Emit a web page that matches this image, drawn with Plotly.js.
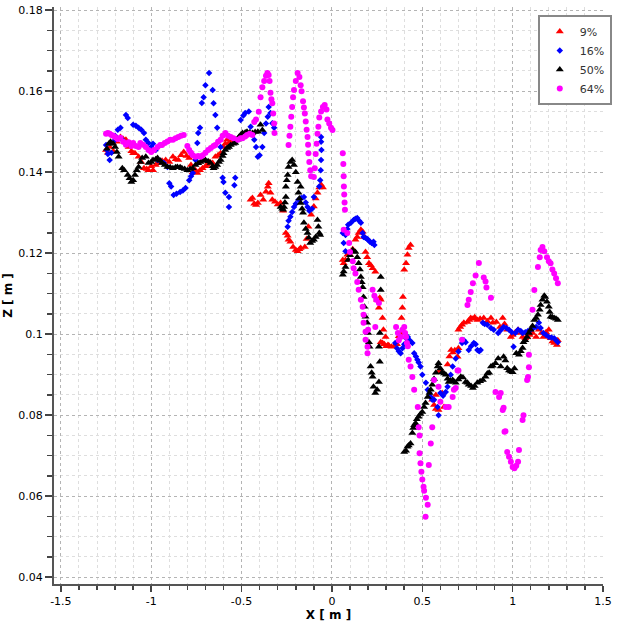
<!DOCTYPE html>
<html>
<head>
<meta charset="utf-8">
<script src="https://cdn.plot.ly/plotly-3.0.1.min.js"></script>
<style>
  html, body { margin: 0; padding: 0; background: #fff; }
  #chart { width: 625px; height: 627px; }
</style>
</head>
<body>
<div id="chart"></div>
<script>
// values, [x, z] in metres

const pts9 = [
  [-1.25, 0.1455], [-1.24, 0.1448], [-1.23, 0.1462], [-1.21, 0.1452], [-1.19, 0.1475], [-1.17, 0.1487],
  [-1.155, 0.1482], [-1.14, 0.148], [-1.125, 0.1462], [-1.11, 0.1452], [-1.10, 0.1447], [-1.09, 0.1447],
  [-1.07, 0.1438], [-1.055, 0.1425], [-1.04, 0.141], [-1.025, 0.1408], [-1.015, 0.1405], [-1.0, 0.1415],
  [-0.99, 0.1405], [-0.975, 0.1418], [-0.96, 0.1423], [-0.94, 0.1428], [-0.92, 0.143], [-0.90, 0.1425],
  [-0.88, 0.1438], [-0.865, 0.1432], [-0.85, 0.143], [-0.835, 0.1442], [-0.82, 0.145], [-0.805, 0.144],
  [-0.79, 0.1435], [-0.78, 0.1418], [-0.77, 0.14], [-0.755, 0.1405], [-0.745, 0.1398], [-0.73, 0.1405],
  [-0.716, 0.141], [-0.70, 0.1415], [-0.69, 0.1418], [-0.675, 0.1425], [-0.66, 0.1423], [-0.645, 0.1438],
  [-0.63, 0.1442], [-0.616, 0.1447], [-0.60, 0.1462], [-0.59, 0.147], [-0.58, 0.148], [-0.57, 0.1472],
  [-0.56, 0.1475], [-0.545, 0.1478], [-0.535, 0.148], [-0.52, 0.1482],
  [-0.45, 0.1332], [-0.44, 0.1336], [-0.43, 0.1322], [-0.42, 0.1319], [-0.41, 0.1324], [-0.395, 0.1344],
  [-0.38, 0.1332], [-0.365, 0.1352], [-0.355, 0.1364], [-0.35, 0.1373], [-0.34, 0.1349], [-0.33, 0.1332],
  [-0.315, 0.1327], [-0.30, 0.132], [-0.284, 0.1324], [-0.27, 0.1305],
  [-0.255, 0.125], [-0.245, 0.1243], [-0.24, 0.1233], [-0.23, 0.1228], [-0.215, 0.1215], [-0.20, 0.1208],
  [-0.19, 0.1205], [-0.18, 0.121], [-0.173, 0.1213],
  [-0.15, 0.1215], [-0.14, 0.1235], [-0.13, 0.1265], [-0.115, 0.1295], [-0.10, 0.1315], [-0.09, 0.1335],
  [-0.08, 0.1349], [-0.07, 0.1362], [-0.06, 0.1369], [-0.05, 0.1362],
  [0.06, 0.1183], [0.065, 0.1175], [0.075, 0.1183], [0.085, 0.1196], [0.10, 0.1196], [0.115, 0.121],
  [0.13, 0.1233], [0.14, 0.124], [0.148, 0.125], [0.16, 0.1258], [0.17, 0.1253], [0.18, 0.124],
  [0.186, 0.1203], [0.195, 0.119], [0.205, 0.1175], [0.215, 0.117], [0.225, 0.1163], [0.24, 0.1154],
  [0.25, 0.1085], [0.26, 0.1065], [0.265, 0.109], [0.27, 0.1085], [0.28, 0.104], [0.285, 0.1011],
  [0.297, 0.0993], [0.31, 0.0973], [0.27, 0.098], [0.28, 0.0978], [0.29, 0.0975], [0.30, 0.097],
  [0.315, 0.0972], [0.33, 0.0969], [0.345, 0.097], [0.355, 0.0975], [0.36, 0.0975],
  [0.37, 0.0995], [0.38, 0.1003], [0.385, 0.104], [0.39, 0.1065], [0.393, 0.1092], [0.40, 0.1159],
  [0.41, 0.1175], [0.418, 0.1196], [0.425, 0.1213], [0.435, 0.122],
  [0.555, 0.0838], [0.565, 0.0825], [0.575, 0.0815], [0.59, 0.0813], [0.62, 0.082], [0.575, 0.085],
  [0.61, 0.0855], [0.59, 0.0906], [0.60, 0.091],
  [0.64, 0.0925], [0.65, 0.0945], [0.66, 0.0961], [0.67, 0.0955], [0.68, 0.096], [0.695, 0.0944],
  [0.70, 0.0965], [0.70, 0.1011], [0.71, 0.1018], [0.72, 0.1023], [0.73, 0.1028], [0.75, 0.103],
  [0.76, 0.1035], [0.768, 0.104], [0.78, 0.1038], [0.79, 0.1042], [0.805, 0.1035], [0.82, 0.1038],
  [0.84, 0.104], [0.86, 0.1032], [0.88, 0.104], [0.89, 0.1028], [0.91, 0.103], [0.93, 0.1018],
  [0.945, 0.104], [0.955, 0.1025], [0.97, 0.1011], [0.99, 0.0993], [1.0, 0.0998], [1.015, 0.1005],
  [1.03, 0.1011], [1.045, 0.1003], [1.055, 0.0993], [1.07, 0.099], [1.08, 0.0993], [1.095, 0.0998],
  [1.11, 0.1003], [1.13, 0.0993], [1.145, 0.1011], [1.16, 0.1003], [1.17, 0.0993], [1.185, 0.1005],
  [1.20, 0.1011], [1.21, 0.099], [1.22, 0.0982], [1.23, 0.0978], [1.245, 0.0973], [1.25, 0.0985]
];

const pts16 = [
  [-1.25, 0.1467], [-1.245, 0.1455], [-1.24, 0.1445], [-1.23, 0.143], [-1.22, 0.1448], [-1.21, 0.1475],
  [-1.20, 0.149], [-1.185, 0.1505], [-1.17, 0.151], [-1.16, 0.148], [-1.14, 0.1541], [-1.13, 0.1534],
  [-1.10, 0.1517], [-1.085, 0.1515], [-1.07, 0.151], [-1.055, 0.1505], [-1.04, 0.1497], [-1.03, 0.148],
  [-1.015, 0.1472], [-1.0, 0.1462], [-0.99, 0.147], [-0.975, 0.1455], [-0.965, 0.143], [-0.95, 0.1428],
  [-0.93, 0.1423], [-0.91, 0.1413], [-0.90, 0.1373], [-0.89, 0.1365], [-0.876, 0.1344], [-0.86, 0.1347],
  [-0.84, 0.1351], [-0.825, 0.1355], [-0.81, 0.1361], [-0.79, 0.138], [-0.78, 0.139], [-0.77, 0.1398],
  [-0.755, 0.143], [-0.745, 0.1472], [-0.74, 0.1497], [-0.73, 0.151], [-0.72, 0.1571], [-0.71, 0.1585],
  [-0.70, 0.1615], [-0.68, 0.1645], [-0.66, 0.1603], [-0.655, 0.157], [-0.645, 0.1541], [-0.635, 0.151],
  [-0.616, 0.1462], [-0.605, 0.1386], [-0.60, 0.1376], [-0.59, 0.1349], [-0.57, 0.1339], [-0.57, 0.1314],
  [-0.54, 0.1368], [-0.535, 0.1386], [-0.505, 0.1529], [-0.49, 0.154], [-0.48, 0.1546], [-0.46, 0.155],
  [-0.45, 0.1512], [-0.43, 0.148], [-0.42, 0.1462], [-0.41, 0.1438], [-0.40, 0.1442], [-0.385, 0.1462],
  [-0.375, 0.1497], [-0.365, 0.152], [-0.355, 0.1537], [-0.35, 0.1561], [-0.34, 0.1546], [-0.33, 0.1521],
  [-0.32, 0.151],
  [-0.245, 0.1265], [-0.24, 0.128], [-0.23, 0.129], [-0.22, 0.1302], [-0.21, 0.1314], [-0.20, 0.1322],
  [-0.185, 0.1332], [-0.17, 0.1336], [-0.155, 0.1339], [-0.145, 0.1325], [-0.135, 0.1314], [-0.125, 0.1305],
  [-0.11, 0.131], [-0.10, 0.1339], [-0.07, 0.1365], [-0.065, 0.138], [-0.062, 0.1405], [-0.06, 0.143],
  [-0.058, 0.1455], [-0.06, 0.1475], [-0.06, 0.1487],
  [0.06, 0.125], [0.065, 0.1225], [0.075, 0.1205], [0.075, 0.1245], [0.085, 0.126], [0.09, 0.127],
  [0.105, 0.1275], [0.12, 0.1282], [0.13, 0.1285], [0.14, 0.1287], [0.15, 0.128], [0.16, 0.1275],
  [0.17, 0.125], [0.175, 0.124], [0.185, 0.1238], [0.195, 0.1235], [0.20, 0.1233], [0.21, 0.1228],
  [0.22, 0.1225], [0.23, 0.1228], [0.235, 0.122],
  [0.35, 0.0978], [0.36, 0.0965], [0.37, 0.0958], [0.38, 0.0953], [0.39, 0.0965], [0.40, 0.0975],
  [0.41, 0.099], [0.42, 0.0993], [0.43, 0.0985], [0.445, 0.0978], [0.455, 0.0953], [0.465, 0.0945],
  [0.473, 0.0937], [0.48, 0.093], [0.49, 0.092], [0.50, 0.09], [0.52, 0.088], [0.53, 0.0863],
  [0.54, 0.0855], [0.547, 0.0845], [0.555, 0.0838], [0.565, 0.0838], [0.585, 0.082], [0.59, 0.08],
  [0.60, 0.0855], [0.615, 0.0848], [0.63, 0.0857], [0.64, 0.087], [0.657, 0.09], [0.668, 0.092],
  [0.685, 0.094], [0.70, 0.0957], [0.72, 0.0978], [0.73, 0.0985], [0.74, 0.098], [0.757, 0.0961],
  [0.77, 0.097], [0.785, 0.0978], [0.795, 0.0975], [0.805, 0.0961], [0.815, 0.0958], [0.823, 0.0961],
  [0.835, 0.1028], [0.845, 0.1025], [0.86, 0.1023], [0.88, 0.1015], [0.895, 0.1011], [0.92, 0.1003],
  [0.935, 0.101], [0.95, 0.1018], [0.965, 0.1015], [0.98, 0.1011], [0.995, 0.1005], [1.005, 0.0969],
  [1.015, 0.1003], [1.03, 0.1011], [1.045, 0.1008], [1.055, 0.1003], [1.07, 0.1005], [1.085, 0.1008],
  [1.10, 0.1011], [1.115, 0.1015], [1.13, 0.1018], [1.145, 0.1028], [1.155, 0.1015], [1.17, 0.1003],
  [1.185, 0.0998], [1.20, 0.0993], [1.215, 0.0992], [1.23, 0.099], [1.24, 0.0985], [1.25, 0.098]
];

const pts50 = [
  [-1.245, 0.1458], [-1.235, 0.147], [-1.225, 0.1475], [-1.21, 0.147], [-1.20, 0.1462], [-1.19, 0.145],
  [-1.18, 0.1438], [-1.16, 0.141], [-1.15, 0.1405], [-1.13, 0.1393], [-1.12, 0.1385], [-1.11, 0.1376],
  [-1.10, 0.138], [-1.09, 0.1393], [-1.08, 0.1405], [-1.07, 0.1413], [-1.06, 0.1425], [-1.05, 0.1435],
  [-1.03, 0.1438], [-1.015, 0.1423], [-1.0, 0.1425], [-0.99, 0.143], [-0.975, 0.1432], [-0.965, 0.1435],
  [-0.95, 0.1428], [-0.94, 0.1423], [-0.925, 0.1418], [-0.91, 0.1413], [-0.895, 0.1412], [-0.88, 0.141],
  [-0.865, 0.1412], [-0.855, 0.1413], [-0.84, 0.1412], [-0.83, 0.141], [-0.815, 0.1408], [-0.80, 0.1405],
  [-0.785, 0.1408], [-0.77, 0.141], [-0.755, 0.1418], [-0.74, 0.1422], [-0.727, 0.1425], [-0.715, 0.1428],
  [-0.70, 0.143], [-0.685, 0.1427], [-0.672, 0.1423], [-0.66, 0.1415], [-0.655, 0.141], [-0.645, 0.1413],
  [-0.635, 0.1418], [-0.625, 0.1425], [-0.616, 0.143], [-0.605, 0.144], [-0.60, 0.1447], [-0.59, 0.1455],
  [-0.58, 0.146], [-0.57, 0.1462], [-0.56, 0.1467], [-0.545, 0.147], [-0.535, 0.1472], [-0.525, 0.148],
  [-0.515, 0.1487], [-0.505, 0.1492], [-0.495, 0.1497], [-0.48, 0.1498], [-0.47, 0.15], [-0.455, 0.1498],
  [-0.44, 0.1497], [-0.425, 0.1499], [-0.41, 0.15], [-0.395, 0.1517], [-0.385, 0.1504],
  [-0.284, 0.1314], [-0.275, 0.131], [-0.27, 0.1307], [-0.265, 0.1314], [-0.26, 0.1325], [-0.255, 0.1339],
  [-0.255, 0.1364], [-0.25, 0.138], [-0.245, 0.1393], [-0.24, 0.1413], [-0.23, 0.1425], [-0.22, 0.143],
  [-0.21, 0.1418], [-0.20, 0.14], [-0.19, 0.1376], [-0.185, 0.1349], [-0.173, 0.1364], [-0.18, 0.1335],
  [-0.173, 0.1324], [-0.165, 0.131], [-0.16, 0.13], [-0.155, 0.1275], [-0.145, 0.126], [-0.135, 0.125],
  [-0.128, 0.1238], [-0.12, 0.1225], [-0.11, 0.123], [-0.10, 0.1233], [-0.09, 0.124], [-0.08, 0.1282],
  [-0.075, 0.1265], [-0.07, 0.125], [-0.065, 0.1245],
  [0.06, 0.1147], [0.065, 0.1155], [0.075, 0.1166], [0.09, 0.1183], [0.10, 0.1195], [0.115, 0.1208],
  [0.12, 0.1205], [0.13, 0.1203], [0.14, 0.119], [0.148, 0.1175], [0.155, 0.116], [0.16, 0.1141],
  [0.165, 0.1128], [0.17, 0.1116], [0.175, 0.1092], [0.18, 0.1068], [0.186, 0.1043], [0.195, 0.1028],
  [0.20, 0.1003], [0.205, 0.098], [0.208, 0.0969], [0.214, 0.092], [0.22, 0.0905], [0.225, 0.0895],
  [0.23, 0.087], [0.24, 0.0855], [0.25, 0.0863], [0.26, 0.0882], [0.265, 0.0932], [0.26, 0.0969],
  [0.265, 0.1003], [0.27, 0.1109], [0.27, 0.1141],
  [0.40, 0.0709], [0.41, 0.0712], [0.418, 0.0722], [0.425, 0.0725], [0.435, 0.073], [0.445, 0.0756],
  [0.45, 0.0768], [0.455, 0.0775], [0.463, 0.078], [0.47, 0.079], [0.48, 0.0796], [0.49, 0.0803],
  [0.50, 0.0808], [0.51, 0.082], [0.518, 0.083], [0.53, 0.0845], [0.54, 0.0855], [0.547, 0.0863],
  [0.555, 0.0875], [0.565, 0.0889], [0.575, 0.0905], [0.585, 0.092], [0.59, 0.0928], [0.60, 0.0915],
  [0.61, 0.0906], [0.62, 0.0903], [0.63, 0.09], [0.64, 0.089], [0.646, 0.0882], [0.655, 0.0885],
  [0.668, 0.0887], [0.675, 0.0883], [0.685, 0.088], [0.70, 0.0888], [0.713, 0.0895], [0.725, 0.0893],
  [0.74, 0.0882], [0.75, 0.088], [0.757, 0.0875], [0.77, 0.0872], [0.78, 0.0867], [0.79, 0.0872],
  [0.805, 0.088], [0.82, 0.0884], [0.835, 0.0887], [0.85, 0.0895], [0.86, 0.0903], [0.87, 0.0905],
  [0.88, 0.092], [0.89, 0.0922], [0.905, 0.0928], [0.92, 0.094], [0.934, 0.092], [0.95, 0.0944],
  [0.96, 0.0935], [0.97, 0.0916], [0.98, 0.091], [0.99, 0.0908], [1.0, 0.0906], [1.01, 0.0915],
  [1.02, 0.0953], [1.035, 0.0949], [1.045, 0.0958], [1.055, 0.0966], [1.06, 0.098], [1.07, 0.0985],
  [1.08, 0.0993], [1.09, 0.1003], [1.10, 0.1011], [1.11, 0.102], [1.12, 0.1035], [1.13, 0.104],
  [1.14, 0.1048], [1.15, 0.106], [1.155, 0.1072], [1.165, 0.1085], [1.175, 0.1095], [1.18, 0.1092],
  [1.19, 0.108], [1.20, 0.1068], [1.205, 0.1055], [1.21, 0.1043], [1.22, 0.1042], [1.23, 0.104],
  [1.24, 0.1038], [1.25, 0.1035]
];

const pts64 = [
  [-1.25, 0.1495], [-1.24, 0.1497], [-1.23, 0.1495], [-1.22, 0.1492], [-1.21, 0.149], [-1.20, 0.1487],
  [-1.185, 0.1482], [-1.17, 0.1485], [-1.155, 0.1475], [-1.14, 0.1468], [-1.125, 0.1474], [-1.11, 0.1465],
  [-1.10, 0.1472], [-1.085, 0.1465], [-1.07, 0.1462], [-1.06, 0.1472], [-1.045, 0.1468], [-1.03, 0.1462],
  [-1.015, 0.1455], [-1.0, 0.145], [-0.985, 0.1455], [-0.965, 0.1462], [-0.95, 0.1467], [-0.94, 0.1467],
  [-0.925, 0.1472], [-0.91, 0.1476], [-0.895, 0.148], [-0.88, 0.148], [-0.865, 0.1484], [-0.85, 0.1487],
  [-0.835, 0.149], [-0.82, 0.1492], [-0.80, 0.1465], [-0.79, 0.1455], [-0.78, 0.1448], [-0.77, 0.1442],
  [-0.755, 0.1438], [-0.74, 0.144], [-0.727, 0.1438], [-0.715, 0.1442], [-0.70, 0.1448], [-0.685, 0.1455],
  [-0.67, 0.146], [-0.655, 0.1465], [-0.645, 0.1467], [-0.63, 0.1475], [-0.616, 0.148], [-0.605, 0.149],
  [-0.59, 0.1497], [-0.575, 0.149], [-0.56, 0.1487], [-0.545, 0.1484], [-0.52, 0.148], [-0.505, 0.1484],
  [-0.495, 0.1484], [-0.48, 0.1488], [-0.47, 0.1492], [-0.455, 0.1495], [-0.44, 0.1492], [-0.43, 0.1524],
  [-0.42, 0.153], [-0.405, 0.1549], [-0.395, 0.1585], [-0.385, 0.161], [-0.375, 0.1625], [-0.365, 0.1638],
  [-0.357, 0.1645], [-0.35, 0.164], [-0.345, 0.1625], [-0.34, 0.1596], [-0.335, 0.158], [-0.33, 0.157],
  [-0.325, 0.1545], [-0.32, 0.152], [-0.318, 0.1497],
  [-0.24, 0.1467], [-0.235, 0.149], [-0.23, 0.1512], [-0.225, 0.1537], [-0.22, 0.1561], [-0.215, 0.1585],
  [-0.21, 0.1603], [-0.20, 0.1625], [-0.19, 0.1645], [-0.18, 0.1635], [-0.173, 0.1615], [-0.168, 0.16],
  [-0.16, 0.1575], [-0.155, 0.156], [-0.15, 0.1545], [-0.145, 0.1525], [-0.14, 0.1505], [-0.135, 0.1487],
  [-0.132, 0.1468], [-0.13, 0.1447], [-0.125, 0.1425], [-0.12, 0.1405], [-0.115, 0.139], [-0.10, 0.1388],
  [-0.095, 0.141], [-0.09, 0.1445], [-0.085, 0.147], [-0.08, 0.1495], [-0.075, 0.1512], [-0.07, 0.1535],
  [-0.06, 0.155], [-0.05, 0.1561], [-0.04, 0.1566], [-0.03, 0.1555], [-0.025, 0.153], [-0.015, 0.152],
  [-0.005, 0.151], [0.003, 0.1504],
  [0.06, 0.1447], [0.063, 0.142], [0.065, 0.139], [0.066, 0.1365], [0.068, 0.1345], [0.07, 0.1325],
  [0.072, 0.1307], [0.065, 0.1258], [0.085, 0.125], [0.095, 0.1225], [0.10, 0.1203], [0.115, 0.118],
  [0.12, 0.1163], [0.13, 0.115], [0.14, 0.1129], [0.148, 0.111], [0.16, 0.1085], [0.17, 0.1068],
  [0.175, 0.1048], [0.175, 0.1028], [0.186, 0.1006], [0.186, 0.0986], [0.197, 0.0969], [0.197, 0.0953],
  [0.20, 0.1011], [0.225, 0.111], [0.235, 0.1095], [0.245, 0.1085], [0.26, 0.1077], [0.24, 0.1018],
  [0.355, 0.1018], [0.365, 0.1003], [0.37, 0.0985], [0.38, 0.0993], [0.39, 0.1011], [0.40, 0.1018],
  [0.405, 0.1003], [0.41, 0.0993], [0.415, 0.0978], [0.42, 0.097], [0.425, 0.0937], [0.435, 0.092],
  [0.445, 0.0894], [0.455, 0.0863], [0.475, 0.082], [0.48, 0.077], [0.485, 0.075], [0.485, 0.0706],
  [0.49, 0.0681], [0.495, 0.066], [0.50, 0.0641], [0.507, 0.0623], [0.51, 0.0613], [0.52, 0.0596],
  [0.53, 0.0579], [0.518, 0.0549], [0.536, 0.0677], [0.547, 0.073], [0.555, 0.077],
  [0.565, 0.0887], [0.59, 0.087], [0.60, 0.0833], [0.63, 0.082], [0.646, 0.082], [0.668, 0.0845],
  [0.675, 0.0863], [0.685, 0.0867], [0.695, 0.091], [0.70, 0.091], [0.72, 0.0986],
  [0.75, 0.1072], [0.757, 0.1085], [0.768, 0.1104], [0.78, 0.1126], [0.795, 0.1145], [0.813, 0.1176],
  [0.84, 0.114], [0.85, 0.113], [0.855, 0.1115], [0.88, 0.109],
  [0.905, 0.0857], [0.925, 0.0845], [0.934, 0.0855], [0.945, 0.0813], [0.95, 0.0818], [0.955, 0.0759],
  [0.96, 0.076], [0.97, 0.0709], [0.98, 0.0697], [0.99, 0.0685], [1.0, 0.0672], [1.01, 0.0669],
  [1.02, 0.0675], [1.03, 0.0685], [1.035, 0.0714], [1.055, 0.0788], [1.06, 0.08], [1.08, 0.0887],
  [1.085, 0.0894], [1.09, 0.0918], [1.09, 0.0949], [1.11, 0.106], [1.12, 0.1109], [1.14, 0.1166],
  [1.15, 0.119], [1.155, 0.1208], [1.165, 0.1215], [1.175, 0.1205], [1.19, 0.119], [1.20, 0.118],
  [1.21, 0.1175], [1.22, 0.116], [1.23, 0.115], [1.24, 0.1138], [1.25, 0.1126]
];

const seriesNames = ["9%", "16%", "50%", "64%"];
const xTickVals = [-1.5, -1, -0.5, 0, 0.5, 1, 1.5];
const xTickText = ["-1.5", "-1", "-0.5", "0", "0.5", "1", "1.5"];

const styles = [
  { symbol: "triangle-up", color: "#ff0000", size: 7 },
  { symbol: "diamond", color: "#0000ff", size: 5 },
  { symbol: "triangle-up", color: "#000000", size: 7 },
  { symbol: "circle", color: "#ff00ff", size: 6 }
];

const allPts = [pts9, pts16, pts50, pts64];

const traces = allPts.map(function (pts, i) {
  return {
    x: pts.map((p) => p[0]),
    y: pts.map((p) => p[1]),
    type: "scatter",
    mode: "markers",
    name: seriesNames[i],
    marker: {
      symbol: styles[i].symbol,
      color: styles[i].color,
      size: styles[i].size,
      line: { width: 0 }
    }
  };
});

const tickFont = { family: "DejaVu Sans, sans-serif", size: 11, color: "#000" };
const titleFont = { family: "DejaVu Sans, sans-serif", size: 12, color: "#000" };

const layout = {
  width: 625,
  height: 627,
  margin: { l: 54, r: 22, t: 7, b: 43, pad: 0 },
  paper_bgcolor: "#fff",
  plot_bgcolor: "#fff",
  showlegend: true,
  legend: {
    x: 1.016,
    xanchor: "right",
    y: 0.986,
    yanchor: "top",
    bgcolor: "#fff",
    bordercolor: "#888",
    borderwidth: 2,
    font: { family: "DejaVu Sans, sans-serif", size: 11, color: "#333" },
    tracegroupgap: 0
  },
  xaxis: {
    range: [-1.538, 1.5],
    tickmode: "array",
    tickvals: xTickVals,
    ticktext: xTickText,
    ticks: "outside",
    ticklen: 6,
    tickwidth: 1.5,
    tickcolor: "#444",
    showline: true,
    linecolor: "#555",
    linewidth: 2,
    showgrid: true,
    gridcolor: "#b4b4b4",
    griddash: "dot",
    gridwidth: 1,
    zeroline: false,
    tickfont: tickFont,
    minor: {
      tickmode: "linear",
      tick0: 0,
      dtick: 0.1,
      ticks: "outside",
      ticklen: 4,
      tickcolor: "#444",
      showgrid: true,
      gridcolor: "#dedede",
      griddash: "dot",
      gridwidth: 1
    },
    title: { text: "<b>X [ m ]</b>", font: titleFont, standoff: 3 },
    automargin: false
  },
  yaxis: {
    range: [0.0383, 0.1808],
    tick0: 0,
    dtick: 0.02,
    ticks: "outside",
    ticklen: 7,
    tickwidth: 1.5,
    tickcolor: "#444",
    showline: true,
    linecolor: "#555",
    linewidth: 2,
    showgrid: true,
    gridcolor: "#b4b4b4",
    griddash: "dot",
    gridwidth: 1,
    zeroline: false,
    tickfont: tickFont,
    minor: {
      tickmode: "linear",
      tick0: 0,
      dtick: 0.005,
      ticks: "outside",
      ticklen: 5,
      tickcolor: "#444",
      showgrid: true,
      gridcolor: "#dedede",
      griddash: "dot",
      gridwidth: 1
    },
    title: { text: "<b>Z [ m ]</b>", font: titleFont, standoff: 3 },
    automargin: false
  }
};

Plotly.newPlot("chart", traces, layout, { staticPlot: true, displayModeBar: false });
</script>
</body>
</html>
